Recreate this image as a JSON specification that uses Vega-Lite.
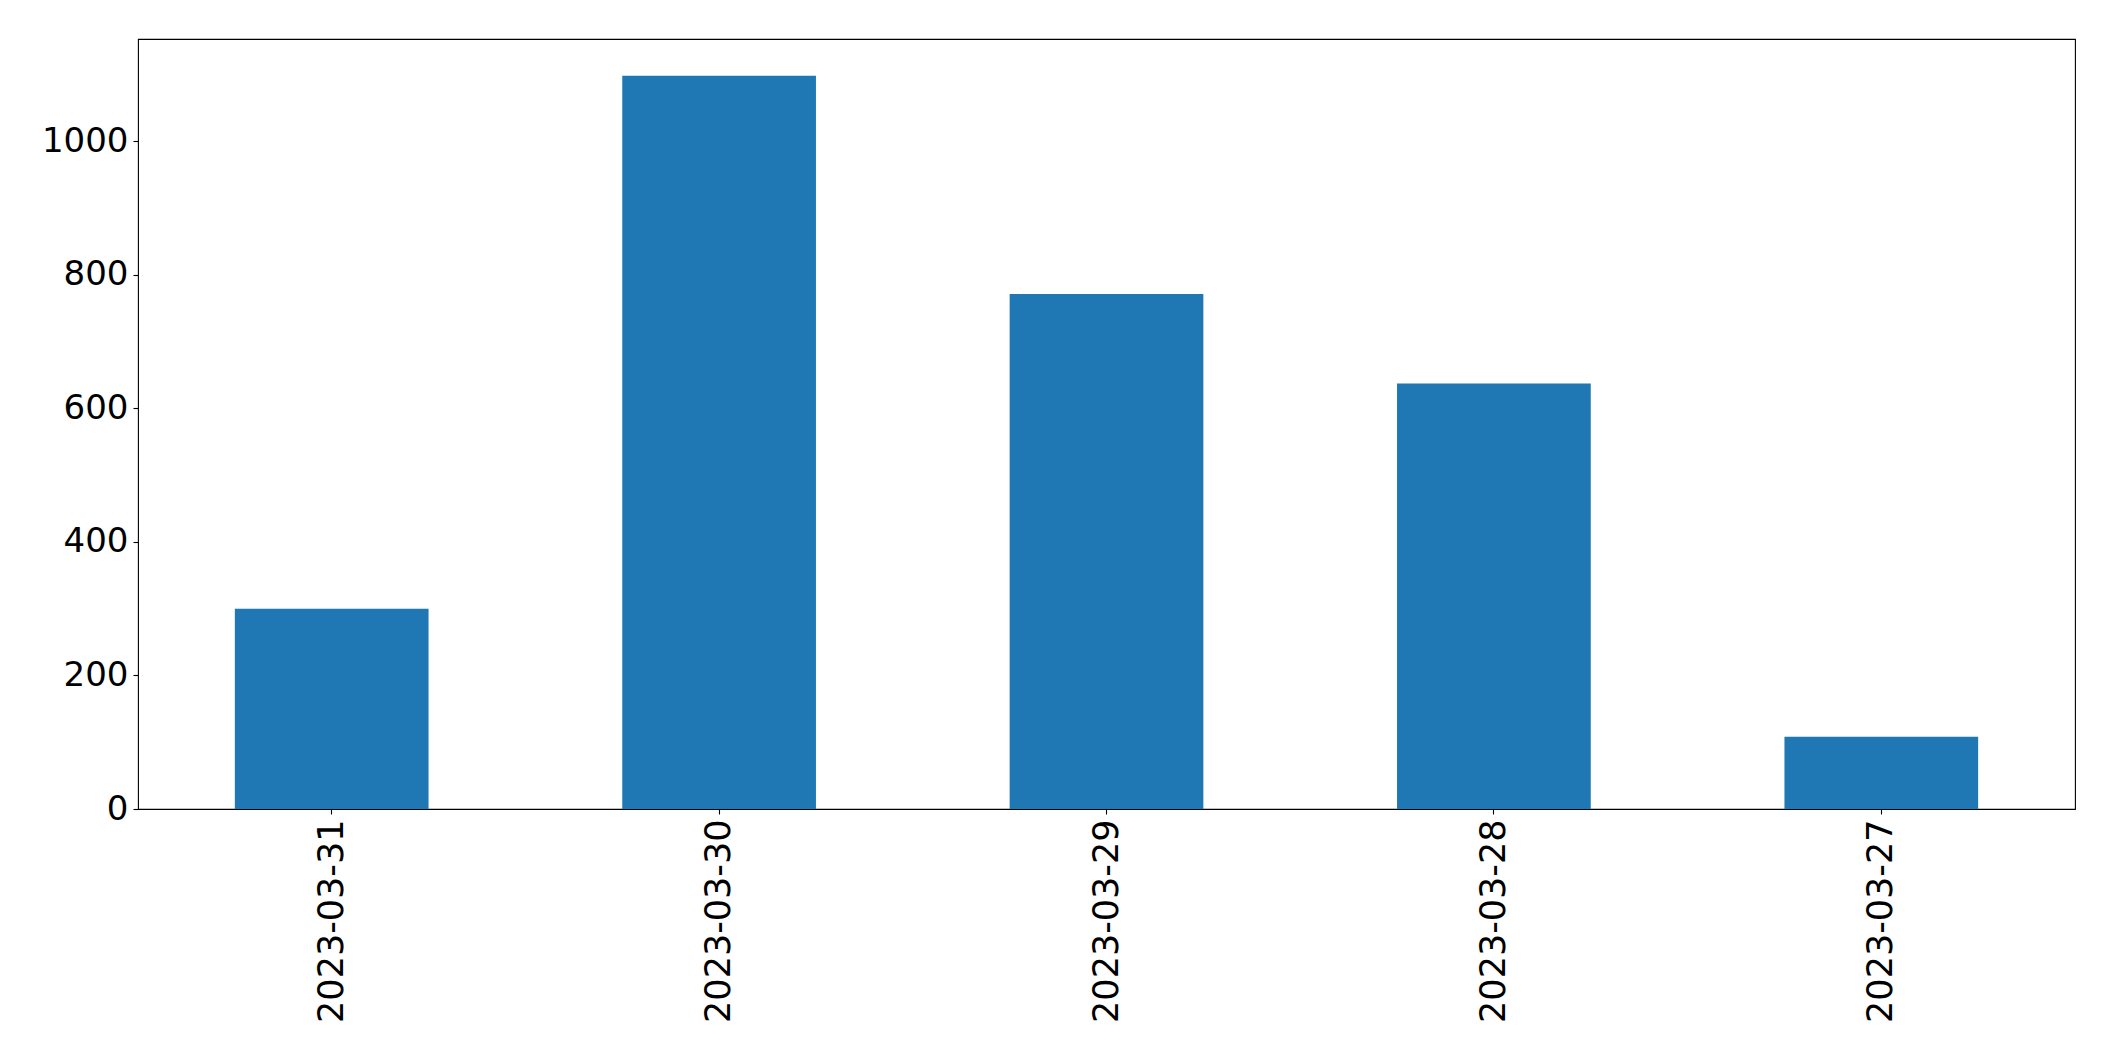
{
  "$schema": "https://vega.github.io/schema/vega-lite/v6.json",
  "autosize": {"type": "none"},
  "padding": {"left": 138, "top": 39, "right": 40, "bottom": 252},
  "width": 1937,
  "height": 770,
  "background": "white",
  "config": {
    "view": {"stroke": "#000000", "strokeWidth": 1.1},
    "axis": {
      "labelFont": "DejaVu Sans",
      "labelFontSize": 34,
      "labelColor": "#000000",
      "tickColor": "#000000",
      "tickSize": 5,
      "tickWidth": 1.1,
      "labelPadding": 5,
      "labelLimit": 0,
      "labelFlush": false,
      "labelOverlap": false,
      "domain": false,
      "grid": false,
      "title": null
    }
  },
  "data": {
    "values": [
      {"date": "2023-03-31", "count": 300},
      {"date": "2023-03-30", "count": 1098},
      {"date": "2023-03-29", "count": 771},
      {"date": "2023-03-28", "count": 637},
      {"date": "2023-03-27", "count": 108}
    ]
  },
  "mark": {"type": "bar", "color": "#1f77b4"},
  "encoding": {
    "x": {
      "field": "date",
      "type": "nominal",
      "sort": null,
      "scale": {"paddingInner": 0.5, "paddingOuter": 0.25},
      "axis": {"labelAngle": -90, "labelFontSize": 35}
    },
    "y": {
      "field": "count",
      "type": "quantitative",
      "scale": {"domain": [0, 1152.9], "nice": false, "zero": true},
      "axis": {"values": [0, 200, 400, 600, 800, 1000], "format": "d"}
    }
  }
}
